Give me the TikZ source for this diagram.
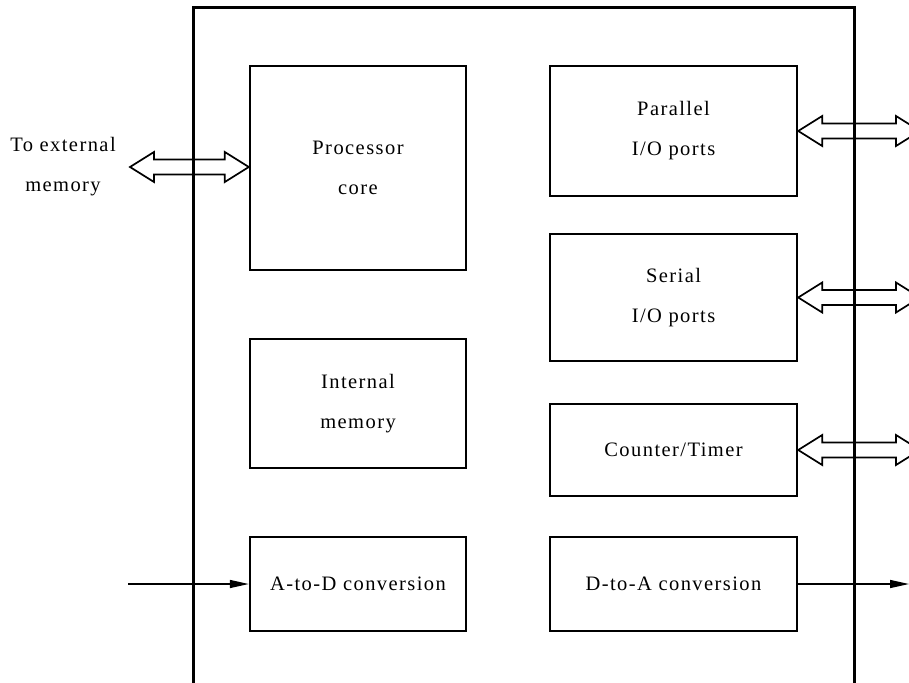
\documentclass[tikz,border=0pt]{standalone}
\usepackage{fontspec}
\setmainfont{Liberation Serif}[LetterSpace=7]
\usetikzlibrary{arrows.meta,calc}

\tikzset{
  unit/.style={draw, line width=2.4pt, inner sep=0pt, align=center,
    font=\fontsize{20.5}{40}\selectfont},
  frame/.style={line width=3pt},
  bus/.style={line width=1.7pt, line join=miter},
  sig/.style={line width=1.4pt, -{Triangle[length=19pt,width=8pt]}},
  caption/.style={align=center, font=\fontsize{20.5}{40}\selectfont}
}

% double-headed open bus arrow between two points on one horizontal line
\newcommand\busarrow[2]{%
  \draw[bus] let \p1=(#1), \p2=(#2) in
    (\x1,\y1) -- (\x1+24pt,\y1+15pt) -- (\x1+24pt,\y1+7.5pt)
    -- (\x2-24pt,\y1+7.5pt) -- (\x2-24pt,\y1+15pt) -- (\x2,\y1)
    -- (\x2-24pt,\y1-15pt) -- (\x2-24pt,\y1-7.5pt)
    -- (\x1+24pt,\y1-7.5pt) -- (\x1+24pt,\y1-15pt) -- cycle;}

\begin{document}
\begin{tikzpicture}[x=1pt,y=-1pt]
  \useasboundingbox (0,0) rectangle (909,682);
  \clip (0,0) rectangle (909,682);

  % chip outline, open at the bottom
  \draw[frame] (193,700) -- (193,8) -- (854,8) -- (854,700);

  % functional units
  \node[unit, minimum width=216pt, minimum height=204pt] (proc) at (358,168) {Processor\\core};
  \node[unit, minimum width=216pt, minimum height=129pt] (mem)  at (358,403.5) {Internal\\memory};
  \node[unit, minimum width=216pt, minimum height=94pt]  (adc)  at (358,584) {A-to-D conversion};
  \node[unit, minimum width=247pt, minimum height=130pt] (par)  at (673.5,131) {Parallel\\I/O ports};
  \node[unit, minimum width=247pt, minimum height=127pt] (ser)  at (673.5,297.5) {Serial\\I/O ports};
  \node[unit, minimum width=247pt, minimum height=92pt]  (cnt)  at (673.5,450) {Counter/Timer};
  \node[unit, minimum width=247pt, minimum height=94pt]  (dac)  at (673.5,584) {D-to-A conversion};

  % external label
  \node[caption] (ext) at (63,167) {To external\\memory};

  % bus connections
  \coordinate (extbus) at (130,167);
  \coordinate (parout) at (920,131);
  \coordinate (serout) at (920,297.5);
  \coordinate (cntout) at (920,450);
  \busarrow{extbus}{proc.west}
  \busarrow{par.east}{parout}
  \busarrow{ser.east}{serout}
  \busarrow{cnt.east}{cntout}

  % analog signal lines
  \coordinate (ain) at (128,584);
  \coordinate (aout) at (909,584);
  \draw[sig] (ain) -- (adc.west);
  \draw[sig] (dac.east) -- (aout);
\end{tikzpicture}
\end{document}
